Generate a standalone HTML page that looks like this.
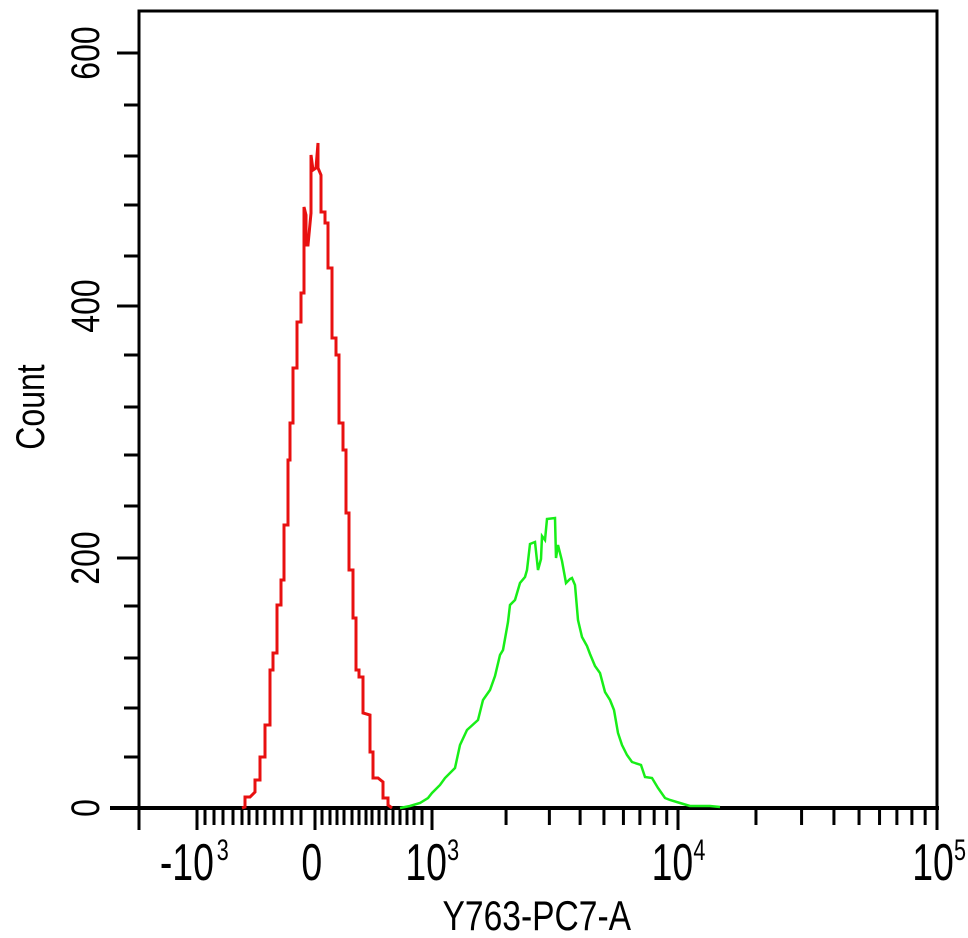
<!DOCTYPE html>
<html><head><meta charset="utf-8"><style>
body{margin:0;background:#fff;}
svg{display:block}
text{font-family:"Liberation Sans",sans-serif;fill:#000}
</style></head><body>
<svg width="968" height="938" viewBox="0 0 968 938">
<rect x="139" y="11" width="798" height="797" fill="none" stroke="#000" stroke-width="3"/>
<line x1="110" y1="808" x2="939" y2="808" stroke="#000" stroke-width="4"/>
<g stroke="#000" stroke-width="3">
<line x1="117" y1="53" x2="139" y2="53"/><line x1="117" y1="306" x2="139" y2="306"/><line x1="117" y1="558" x2="139" y2="558"/><line x1="117" y1="808" x2="139" y2="808"/>
<line x1="124" y1="105" x2="139" y2="105"/><line x1="124" y1="156" x2="139" y2="156"/><line x1="124" y1="205" x2="139" y2="205"/><line x1="124" y1="256" x2="139" y2="256"/>
<line x1="124" y1="355" x2="139" y2="355"/><line x1="124" y1="407" x2="139" y2="407"/><line x1="124" y1="455" x2="139" y2="455"/><line x1="124" y1="506" x2="139" y2="506"/>
<line x1="124" y1="606" x2="139" y2="606"/><line x1="124" y1="658" x2="139" y2="658"/><line x1="124" y1="708" x2="139" y2="708"/><line x1="124" y1="757" x2="139" y2="757"/>
<line x1="139" y1="808" x2="139" y2="830"/><line x1="197" y1="808" x2="197" y2="830"/><line x1="315" y1="808" x2="315" y2="830"/><line x1="432" y1="808" x2="432" y2="830"/><line x1="678" y1="808" x2="678" y2="830"/><line x1="937" y1="808" x2="937" y2="830"/>
</g>
<g stroke="#000" stroke-width="3" id="minor"></g>
<g transform="translate(85,53) rotate(-90)"><text x="0" y="14" font-size="40" text-anchor="middle" transform="scale(0.8,1)">600</text></g>
<g transform="translate(85,306) rotate(-90)"><text x="0" y="14" font-size="40" text-anchor="middle" transform="scale(0.8,1)">400</text></g>
<g transform="translate(85,558) rotate(-90)"><text x="0" y="14" font-size="40" text-anchor="middle" transform="scale(0.8,1)">200</text></g>
<g transform="translate(85,808) rotate(-90)"><text x="0" y="14" font-size="40" text-anchor="middle" transform="scale(0.8,1)">0</text></g>
<g transform="translate(30,407) rotate(-90)"><text x="0" y="14" font-size="40" text-anchor="middle" transform="scale(0.8,1)">Count</text></g>
<g font-size="52" transform="scale(0.72,1)">
<text x="222" y="880">-10</text><text x="301" y="860" font-size="30">3</text>
<text x="433" y="880" text-anchor="middle">0</text>
<text x="563" y="880">10</text><text x="621" y="860" font-size="30">3</text>
<text x="905" y="880">10</text><text x="963" y="860" font-size="30">4</text>
<text x="1267" y="880">10</text><text x="1325" y="860" font-size="30">5</text>
</g>
<text x="537" y="930" font-size="42" text-anchor="middle" transform="scale(0.8,1) translate(134,0)">Y763-PC7-A</text>
<polyline fill="none" stroke="#e81010" stroke-width="3" points="242,808 245,807 245,797 250,797 255,792 255,780 260,780 260,757 265,757 265,725 270,725 270,670 273,670 273,653 277,653 277,605 281,605 281,580 284,580 284,525 288,525 288,460 290,460 290,423 293,423 293,368 297,368 297,322 301,322 301,293 304,293 304,207 306,215 306,245 308,245 311,213 311,155 313,170 316,168 318,143 318,168 321,175 321,212 325,212 325,223 328,223 328,268 332,268 332,338 336,338 336,355 339,355 339,423 343,423 343,450 346,450 346,513 349,513 349,570 353,570 353,618 356,618 356,670 359,670 359,677 363,677 363,713 370,715 370,752 373,752 373,778 378,778 383,782 383,798 388,798 388,805 392,808"/>
<polyline fill="none" stroke="#18ee18" stroke-width="2.5" points="400,808 410,806 420,803 428,798 432,793 440,785 445,778 455,768 460,745 467,730 478,720 483,700 490,690 495,676 500,655 503,650 508,622 510,605 515,600 520,583 525,577 527,570 530,544 535,542 538,570 541,559 542,536 545,540 547,519 555,518 556,558 558,545 562,561 566,583 570,579 572,578 575,585 578,620 582,637 587,646 590,654 595,666 600,673 605,692 610,700 614,710 618,733 622,745 627,755 632,762 635,763 641,765 645,777 652,778 658,788 665,798 670,800 680,803 690,806 700,806 710,806 720,807"/>
</svg>
<script>
var g=document.getElementById('minor');
var xs=[205,214,223,233,242,249,257,265,274,282,292,301,322,330,337,344,352,359,366,372,379,386,393,400,407,414,422];
for(var k=2;k<=9;k++){xs.push(432+246*Math.log10(k));xs.push(678+259*Math.log10(k));}
xs.forEach(function(x){var l=document.createElementNS('http://www.w3.org/2000/svg','line');l.setAttribute('x1',x);l.setAttribute('x2',x);l.setAttribute('y1',808);l.setAttribute('y2',825);g.appendChild(l);});
</script>
</body></html>
